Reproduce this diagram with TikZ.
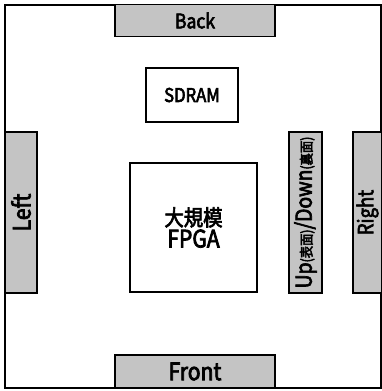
\documentclass[tikz,border=0pt]{standalone}
\usepackage{fontspec}
\newfontfamily\gfont[FakeStretch=0.88,FakeBold=3]{Noto Sans CJK JP}
\newcommand{\fsz}[1]{\fontsize{#1}{#1}\selectfont}
\tikzset{
  frame/.style={draw=black, line width=1.6pt, inner sep=0pt},
  pad/.style={draw=black, line width=1.6pt, fill=black!23, inner sep=0pt, font=\gfont\fsz{22}},
  chip/.style={draw=black, line width=1.6pt, fill=white, inner sep=0pt, font=\gfont\fsz{19}, align=center}
}
\begin{document}
\begin{tikzpicture}[x=1pt,y=-1pt]
\useasboundingbox (0,0) rectangle (382,391);
\node[frame, minimum width=376pt, minimum height=383pt] (board) at (193,196.5) {};
\node[pad, minimum width=160pt, minimum height=32pt, font=\gfont\fsz{20}] (back) at (195,20.5) {Back};
\node[pad, minimum width=160pt, minimum height=33pt, font=\gfont\fsz{24}] (front) at (195,371.5) {Front};
\node[pad, minimum height=32pt, minimum width=161pt, rotate=90, font=\gfont\fsz{24}] (left) at (21,212.5) {Left};
\node[pad, minimum height=29pt, minimum width=161pt, rotate=90, font=\gfont\fsz{21}] (right) at (367.5,212.5) {Right};
\node[pad, minimum height=33pt, minimum width=161pt, rotate=90, font=\gfont\fsz{22}] (updown) at (305.5,212.5) {Up{\fsz{14}(表面)}/Down{\fsz{14}(裏面)}};
\node[chip, minimum width=92pt, minimum height=54pt] (sdram) at (192,95) {SDRAM};
\node[chip, minimum width=127pt, minimum height=129pt] (fpga) at (193.5,227.5) {{\fsz{22}大規模}\\[1pt]{\fsz{24}FPGA}};
\end{tikzpicture}
\end{document}
